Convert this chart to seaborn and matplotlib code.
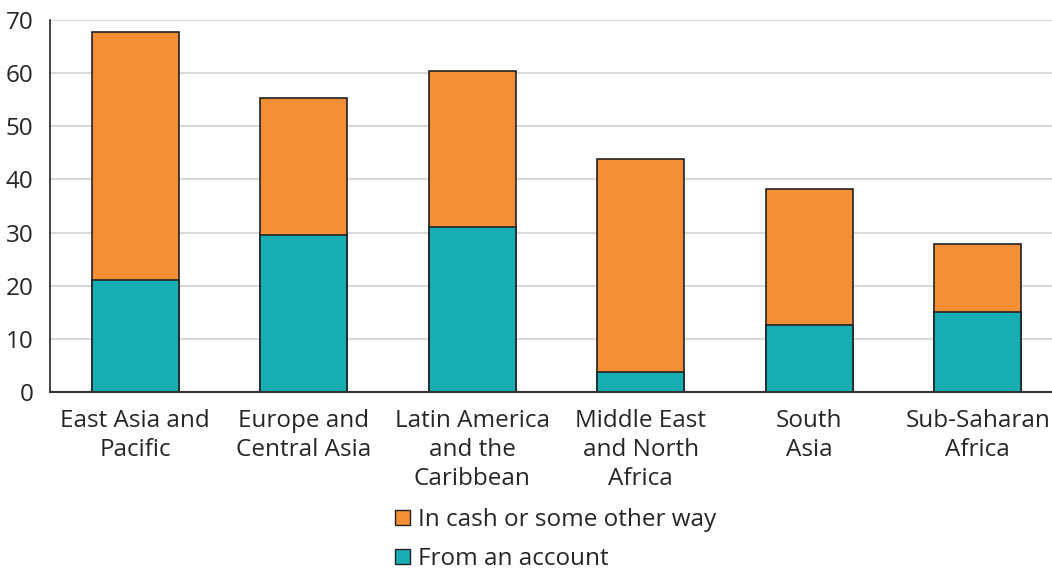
import pandas as pd
import matplotlib.pyplot as plt
import seaborn as sns
from matplotlib.patches import Patch

regions = ['East Asia and\nPacific', 'Europe and\nCentral Asia', 'Latin America\nand the\nCaribbean',
           'Middle East\nand North\nAfrica', 'South\nAsia', 'Sub-Saharan\nAfrica']
from_account = [21.1, 29.5, 31.0, 3.8, 12.6, 15.1]
cash_other = [46.6, 25.8, 29.4, 40.0, 25.6, 12.8]

df = pd.DataFrame({'region': regions, 'account': from_account, 'cash': cash_other})
df['total'] = df['account'] + df['cash']

sns.set_style('white')
plt.rcParams['font.family'] = ['Open Sans', 'DejaVu Sans']

orange = '#F48F35'
teal = '#17ADB3'

fig, ax = plt.subplots(figsize=(10.52, 5.69), dpi=100)
fig.subplots_adjust(left=0.0475, right=1.0, top=0.965, bottom=0.311)

# stacked bars: draw total first, account on top of it
sns.barplot(data=df, x='region', y='total', color=orange, width=0.516,
            edgecolor='#222222', linewidth=1.2, saturation=1, ax=ax)
sns.barplot(data=df, x='region', y='account', color=teal, width=0.516,
            edgecolor='#222222', linewidth=1.2, saturation=1, ax=ax)

ax.set_ylim(0, 70)
ax.set_xlim(-0.505, 5.44)
ax.set_yticks(range(0, 71, 10))
ax.yaxis.grid(True, color='#d9d9d9', linewidth=1.5)
ax.set_axisbelow(True)
ax.set_xlabel('')
ax.set_ylabel('')
for s in ['top', 'right']:
    ax.spines[s].set_visible(False)
ax.spines['left'].set_color('#222222')
ax.spines['bottom'].set_color('#333333')
ax.spines['left'].set_linewidth(1.2)
ax.spines['bottom'].set_linewidth(1.5)
ax.tick_params(axis='y', length=8, width=1.2, color='#444444', labelsize=17.5, pad=4)
ax.tick_params(axis='x', length=0, labelsize=17.5, pad=12)
for lbl in ax.get_xticklabels():
    lbl.set_linespacing(1.28)

handles = [Patch(facecolor=orange, edgecolor='#222222', label='In cash or some other way'),
           Patch(facecolor=teal, edgecolor='#222222', label='From an account')]
fig.legend(handles=handles, loc='lower left', bbox_to_anchor=(0.355, -0.042), frameon=False,
           fontsize=17.5, handlelength=0.62, handleheight=0.62, handletextpad=0.3, labelspacing=0.62)

plt.savefig('out.png', dpi=100)
